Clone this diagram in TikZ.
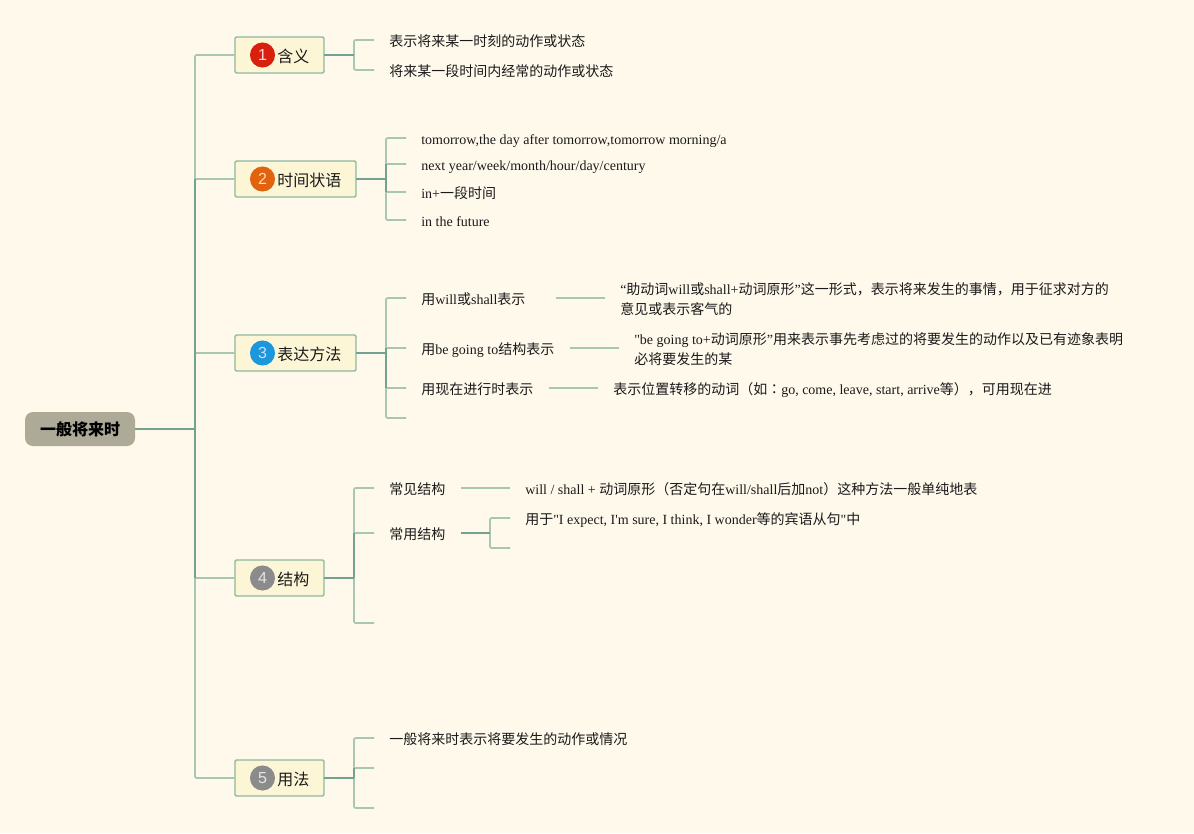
\documentclass[tikz,border=0pt]{standalone}
\usepackage{fontspec}
\newfontfamily\lat{Liberation Serif}
\newfontfamily\cjk{Noto Sans CJK SC}
\newfontfamily\cjktc{Noto Sans CJK TC}
\newfontfamily\digitfont{Liberation Sans}
\newcommand\zh[1]{{\cjk #1}}
\definecolor{paper}{HTML}{FFF9EC}
\definecolor{lite}{HTML}{A8C7B3}
\definecolor{deep}{HTML}{74A290}
\definecolor{boxfill}{HTML}{FDF6D6}
\definecolor{boxline}{HTML}{8DB8A0}
\definecolor{rootfill}{HTML}{AEAA98}
\definecolor{ink}{HTML}{1A1A1A}
\definecolor{ired}{HTML}{D9200F}
\definecolor{iorange}{HTML}{E2620E}
\definecolor{iblue}{HTML}{1B97DC}
\definecolor{igrey}{HTML}{8B8B8B}
\tikzset{
  x=0.75pt,y=-0.75pt,
  rootbox/.style={fill=rootfill,rounded corners=6pt,minimum width=82.5pt,minimum height=25.5pt,inner sep=0pt,text=black,font=\fontsize{12}{14}\selectfont\cjk\bfseries},
  topic/.style={draw=boxline,fill=boxfill,line width=1pt,rounded corners=1pt,minimum height=27pt,inner sep=0pt,outer sep=0pt,anchor=west},
  topiclabel/.style={anchor=west,inner sep=0pt,text=ink,font=\fontsize{12}{14}\selectfont\cjk},
  icon/.style={circle,minimum size=18.8pt,inner sep=0pt,font=\fontsize{12}{12}\selectfont\digitfont},
  leafbase/.style={anchor=west,inner xsep=11.25pt,inner ysep=0pt,text=ink,align=left,font=\fontsize{10.5}{15}\selectfont\lat},
  leaf/.style={leafbase,text height=9.75pt,text depth=0.75pt},
  lightlink/.style={draw=lite,line width=1.2pt,rounded corners=1pt},
  deeplink/.style={draw=deep,line width=1.3pt},
}
\begin{document}
\begin{tikzpicture}
\useasboundingbox (0,0) rectangle (1194,833);
\fill[paper] (0,0) rectangle (1194,833);

% nodes
\node[rootbox] (root) at (80,429) {一般将来时};

\node[topic,minimum width=66.75pt] (t1) at (235,55) {};
\node[topic,minimum width=90.75pt] (t2) at (235,179) {};
\node[topic,minimum width=90.75pt] (t3) at (235,353) {};
\node[topic,minimum width=66.75pt] (t4) at (235,578) {};
\node[topic,minimum width=66.75pt] (t5) at (235,778) {};

\node[icon,fill=ired,text=white!85!red] (i1) at (262.5,55) {1};
\node[icon,fill=iorange,text=white!75!orange] (i2) at (262.5,179) {2};
\node[icon,fill=iblue,text=white!85!blue] (i3) at (262.5,353) {3};
\node[icon,fill=igrey,text=white!80!gray] (i4) at (262.5,578) {4};
\node[icon,fill=igrey,text=white!80!gray] (i5) at (262.5,778) {5};

\node[topiclabel] (l1) at (277,56) {含义};
\node[topiclabel] (l2) at (277,180) {时间状语};
\node[topiclabel] (l3) at (277,354) {表达方法};
\node[topiclabel] (l4) at (277,579) {结构};
\node[topiclabel] (l5) at (277,779) {用法};

\node[leaf] (a1) at (374,40) {\zh{表示将来某一时刻的动作或状态}};
\node[leaf] (a2) at (374,70) {\zh{将来某一段时间内经常的动作或状态}};

\node[leaf] (b1) at (406,138) {tomorrow,the day after tomorrow,tomorrow morning/a};
\node[leaf] (b2) at (406,164) {next year/week/month/hour/day/century};
\node[leaf] (b3) at (406,192) {in+\zh{一段时间}};
\node[leaf] (b4) at (406,220) {in the future};

\node[leaf,text width=89.25pt] (c1) at (406,298) {\zh{用}will\zh{或}shall\zh{表示}};
\node[leaf] (c2) at (406,348) {\zh{用}be going to\zh{结构表示}};
\node[leaf] (c3) at (406,388) {\zh{用现在进行时表示}};
\coordinate (c4) at (406,418);

\node[leafbase] (c1x) at (605,299.5) {“\zh{助动词}will\zh{或}shall+\zh{动词原形}”\zh{这一形式，表示将来发生的事情，用于征求对方的}\\\zh{意见或表示客气的}};
\node[leafbase] (c2x) at (619,349.5) {"be going to+\zh{动词原形}”\zh{用来表示事先考虑过的将要发生的动作以及已有迹象表明}\\\zh{必将要发生的某}};
\node[leaf] (c3x) at (598,388) {\zh{表示位置转移的动词（如}{\cjktc ：}go, come, leave, start, arrive\zh{等），可用现在进}};

\node[leaf] (d1) at (374,488) {\zh{常见结构}};
\node[leaf] (d2) at (374,533) {\zh{常用结构}};
\coordinate (d3) at (374,623);
\node[leaf] (d1x) at (510,488) {will / shall + \zh{动词原形（否定句在}will/shall\zh{后加}not\zh{）这种方法一般单纯地表}};
\node[leaf] (d2x) at (510,518) {\zh{用于}"I expect, I'm sure, I think, I wonder\zh{等的宾语从句}"\zh{中}};
\coordinate (d2y) at (510,548);

\node[leaf] (e1) at (374,738) {\zh{一般将来时表示将要发生的动作或情况}};
\coordinate (e2) at (374,768);
\coordinate (e3) at (374,808);

% junctions
\coordinate (J) at (195,429);
\coordinate (J1) at (354,55);
\coordinate (J2) at (386,179);
\coordinate (J3) at (386,353);
\coordinate (J4) at (354,578);
\coordinate (J5) at (354,778);
\coordinate (J6) at (490,533);

% light branches
\foreach \t in {t1,t2,t3,t4,t5} \draw[lightlink] (J) |- (\t.west);
\foreach \a in {a1,a2} \draw[lightlink] (J1) |- (\a.west);
\foreach \a in {b1,b2,b3,b4} \draw[lightlink] (J2) |- (\a.west);
\foreach \a in {c1,c2,c3} \draw[lightlink] (J3) |- (\a.west);
\draw[lightlink] (J3) |- (c4);
\foreach \a in {d1,d2} \draw[lightlink] (J4) |- (\a.west);
\draw[lightlink] (J4) |- (d3);
\draw[lightlink] (J5) |- (e1.west);
\draw[lightlink] (J5) |- (e2);
\draw[lightlink] (J5) |- (e3);
\draw[lightlink] (J6) |- (d2x.west);
\draw[lightlink] (J6) |- (d2y);
\draw[lightlink] (c1.east) -- (c1.east -| c1x.west);
\draw[lightlink] (c2.east) -- (c2.east -| c2x.west);
\draw[lightlink] (c3.east) -- (c3x.west);
\draw[lightlink] (d1.east) -- (d1x.west);

% deep stems
\draw[deeplink] (root.east) -- (J);
\draw[deeplink] (J |- t2.west) -- (J |- t4.west);
\draw[deeplink] (t1.east) -- (J1);
\draw[deeplink] (t2.east) -- (J2);
\draw[deeplink] (t3.east) -- (J3);
\draw[deeplink] (t4.east) -- (J4);
\draw[deeplink] (t5.east) -- (J5);
\draw[deeplink] (J2 |- b2.west) -- (J2 |- b3.west);
\draw[deeplink] (J3 |- c2.west) -- (J3 |- c3.west);
\draw[deeplink] (J4 |- d2.west) -- (J4);
\draw[deeplink] (J5 |- e2) -- (J5);
\draw[deeplink] (d2.east) -- (J6);
\end{tikzpicture}
\end{document}
